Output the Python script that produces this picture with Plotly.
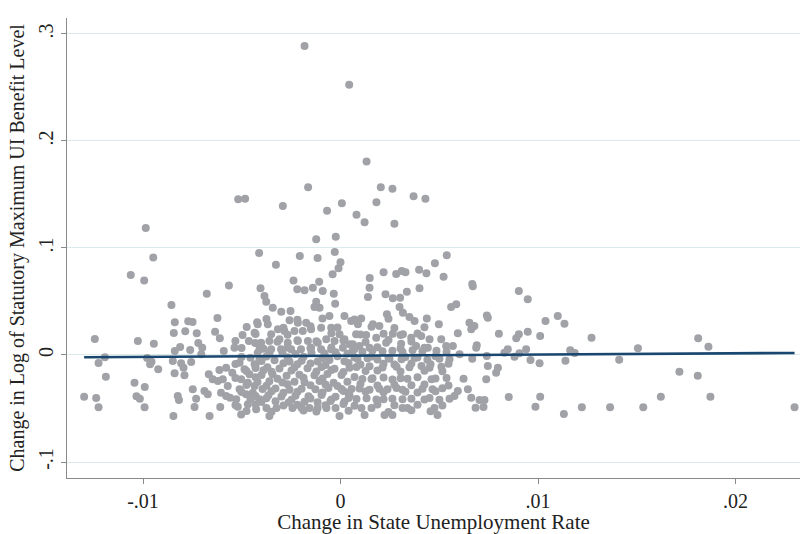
import plotly.graph_objects as go

# Change in state unemployment rate (x) vs change in log max UI benefit (y)

# points above roughly 0.03
x_upper = [-0.00182, 0.00044, 0.00132, -0.00164, -0.00518, -0.00483, -0.00292, 0.00204, 0.00263, 0.00182,
           0.00007, -0.00068, 0.00081, 0.00122, 0.00273, 0.0037, 0.0043, -0.00986, -0.00948, -0.01062,
           -0.00994, -0.00412, -0.00327, -0.00206, -0.00123, -0.00024, -0.00116, -0.00029, 0.0, -0.0001,
           -0.0004, -0.00238, -0.00108, 0.00148, 0.00218, 0.00282, 0.0031, 0.00329, 0.00398, 0.00435,
           0.00478, -0.00565, 0.00538, 0.00522, 0.00667, -0.00677, -0.00856,
           -0.00405, -0.00385, -0.00376, -0.00343, -0.003, -0.00253, -0.00219, -0.00182, -0.0014, -0.0009,
           -0.00034, -0.00123, -0.00132, -0.00106, -0.00027, -0.00056, 0.0002, 0.00054,
           0.00147, 0.00139, 0.00228, 0.00265, 0.00302, 0.00336, 0.004, 0.00299, 0.00316, 0.00349,
           0.00375, 0.00235, 0.00437, 0.00498, 0.0056, 0.00105, 0.00088, 0.00164, 0.00197,
           0.0067, 0.00903, 0.00948, 0.00586, 0.00741, 0.00746, 0.00653, 0.00678, 0.01038, 0.011, 0.01134,
           -0.00839, -0.00771, -0.00749, -0.00623, -0.00422]
y_upper = [0.2888, 0.2526, 0.1807, 0.1567, 0.1455, 0.1461, 0.1393, 0.1567, 0.1554, 0.1427,
           0.1418, 0.1349, 0.1311, 0.1240, 0.1227, 0.1483, 0.1461, 0.1187, 0.0910, 0.0748,
           0.0695, 0.0953, 0.0844, 0.0925, 0.1081, 0.1106, 0.0907, 0.0963, 0.0866, 0.0810,
           0.0754, 0.0695, 0.0685, 0.0720, 0.0773, 0.0757, 0.0785, 0.0773, 0.0797, 0.0763,
           0.0857, 0.0650, 0.0932, 0.0732, 0.0663, 0.0573, 0.0467,
           0.0623, 0.0551, 0.0498, 0.0442, 0.0405, 0.0411, 0.0614, 0.0604, 0.0629, 0.0598,
           0.0573, 0.0498, 0.0449, 0.0442, 0.0479, 0.0364, 0.0364, 0.0318,
           0.0629, 0.0542, 0.0567, 0.0530, 0.0536, 0.0592, 0.0623, 0.0449, 0.0395, 0.0355,
           0.0318, 0.0380, 0.0342, 0.0287, 0.0449, 0.0342, 0.0287, 0.0287, 0.0271,
           0.0642, 0.0598, 0.0520, 0.0474, 0.0370, 0.0349, 0.0302, 0.0271, 0.0318, 0.0364, 0.0293,
           0.0305, 0.0315, 0.0308, 0.0346, 0.0305]

# left tail, x below -0.009
x_left = [-0.01244, -0.01026, -0.00945, -0.01193, -0.01225, -0.00979, -0.00957, -0.00964, -0.00923,
          -0.01188, -0.01043, -0.00991, -0.01298, -0.01237, -0.01033, -0.01016, -0.01225, -0.00992]
y_left = [0.0150, 0.0131, 0.0106, -0.0021, -0.0075, -0.0028, -0.0063, -0.0087, -0.0134,
          -0.0203, -0.0259, -0.0299, -0.0390, -0.0402, -0.0386, -0.0408, -0.0489, -0.0489]

# right tail, x above 0.0055
x_right = [0.00662, 0.00594, 0.00802, 0.00903, 0.0089, 0.00948, 0.01011, 0.00569, 0.0069, 0.00847, 0.0094,
           0.01271, 0.01163, 0.01186, 0.01139, 0.01411, 0.01506, 0.01716, 0.01811, 0.01863, 0.01809,
           0.01622, 0.01873, 0.01131, 0.01222, 0.01365, 0.01533, 0.02299,
           0.00603, 0.00552, 0.00687, 0.00667, 0.00741, 0.00746, 0.0083, 0.00906, 0.00881, 0.00962,
           0.01008, 0.00797, 0.00788, 0.00623, 0.00738, 0.00594, 0.00577, 0.00645, 0.00662, 0.00704,
           0.00729, 0.00852, 0.01011, 0.00684, 0.00724, 0.00987]
y_right = [0.0240, 0.0203, 0.0199, 0.0193, 0.0156, 0.0218, 0.0178, 0.0084, 0.0090, 0.0053, 0.0053,
           0.0162, 0.0044, 0.0019, -0.0053, -0.0044, 0.0063, -0.0156, 0.0156, 0.0078, -0.0193,
           -0.0390, -0.0390, -0.0551, -0.0489, -0.0489, -0.0489, -0.0489,
           0.0006, -0.0040, 0.0068, -0.0034, -0.0009, -0.0103, 0.0022, 0.0016, -0.0016, -0.0047,
           -0.0078, -0.0119, -0.0165, -0.0221, -0.0227, -0.0336, -0.0383, -0.0321, -0.0399, -0.0421,
           -0.0421, -0.0393, -0.0390, -0.0492, -0.0486, -0.0483]

# left-centre cloud, x from -0.009 to -0.004
x_midleft = [-0.00844, -0.00786, -0.00728, -0.00635, -0.00611, -0.00496, -0.00464, -0.00432, -0.0072, -0.007,
             -0.00812, -0.00839, -0.00761, -0.00537, -0.00591,
             -0.00849, -0.00807, -0.00795, -0.00756, -0.00705, -0.0084, -0.0079, -0.00667, -0.00647, -0.00621,
             -0.00613, -0.00579, -0.00548, -0.00596, -0.00571, -0.00748, -0.00689, -0.00672, -0.00731, -0.00824,
             -0.00818, -0.00605, -0.00579, -0.00559, -0.00739, -0.00609, -0.00846, -0.00663, -0.0052, -0.00503,
             -0.00511, -0.00486, -0.00461, -0.00435, -0.0041, -0.00503, -0.00469, -0.00435, -0.00511, -0.00478,
             -0.00444, -0.0041, -0.00469, -0.00427, -0.00528]
y_midleft = [0.0206, 0.0221, 0.0203, 0.0218, 0.0156, 0.0187, 0.0131, 0.0112, 0.0112, 0.0068,
             0.0075, 0.0037, 0.0047, 0.0068, 0.0037,
             -0.0056, -0.0078, -0.0119, -0.0065, 0.0006, -0.0171, -0.0190, -0.0180, -0.0227, -0.0243,
             -0.0140, -0.0119, -0.0165, -0.0227, -0.0290, -0.0321, -0.0336, -0.0367, -0.0408, -0.0383,
             -0.0421, -0.0352, -0.0383, -0.0399, -0.0486, -0.0486, -0.0570, -0.0570, -0.0483, -0.0555,
             -0.0072, -0.0134, -0.0180, -0.0087, -0.0040, -0.0227, -0.0259, -0.0290, -0.0321, -0.0367,
             -0.0352, -0.0414, -0.0461, -0.0508, -0.0414]

# central cloud, x from -0.0045 to 0.0056
x_core = [-0.00402, -0.0036, -0.00309, -0.00267, -0.00216, -0.00165, -0.00115, -0.00072, -0.0003, 0.0002,
          0.00062, 0.00012, -0.00047, -0.00098, -0.00149, -0.002, -0.0025, -0.00301, -0.00351, -0.0041,
          -0.00419, -0.00368, -0.00258, -0.00216, -0.00174, -0.00435, -0.00351, -0.00317, -0.00284,
          -0.00233, -0.00191, -0.00149, -0.00098, -0.00047, -0.00005,
          0.00079, 0.0013, 0.00181, 0.00265, 0.00316, 0.00358, 0.00409, 0.00451, 0.0051, 0.00231,
          0.00307, 0.00383, 0.00442, 0.00535, 0.00096, 0.00147, 0.00046,
          -0.0042, -0.0036, -0.00294, -0.00228, -0.00147, -0.00081, -0.00025, 0.00035,
          -0.004, -0.00334, -0.00258, -0.00197, -0.00116, -0.00056, 0.0002,
          -0.0043, -0.0037, -0.00309, -0.00233, -0.00167, -0.00096, -0.0003, 0.00046,
          -0.004, -0.00344, -0.00273, -0.00208, -0.00132, -0.00066, 0.00005,
          -0.0042, -0.0036, -0.00294, -0.00233, -0.00182, -0.00106, -0.00035, 0.00035,
          -0.00395, -0.00329, -0.00258, -0.00197, -0.00127, -0.00061, 0.00005,
          -0.0043, -0.00365, -0.00299, -0.00228, -0.00162, -0.00096, -0.00025, 0.00046,
          -0.004, -0.00329, -0.00263, -0.00182, -0.00116, -0.00051, 0.0002,
          -0.00375, -0.00324, -0.00243, -0.00197, -0.00157, -0.00116, -0.00071, -0.00025,
          -0.0036, -0.00005,
          0.00061, 0.00111, 0.00162, 0.00213, 0.00263, 0.00314, 0.00365, 0.00415, 0.00486, 0.00537,
          0.00086, 0.00137, 0.00187, 0.00248, 0.00309, 0.00375, 0.0044, 0.00501,
          0.00081, 0.00147, 0.00213, 0.00284, 0.00349, 0.0041, 0.00451, 0.00511,
          0.00111, 0.00162, 0.00263, 0.00339, 0.00461, 0.00537,
          0.00056, 0.00096, 0.00147, 0.00197, 0.00238, 0.00284, 0.00314, 0.00415, 0.00466, 0.00516,
          0.00081, 0.00132, 0.00182, 0.00263, 0.00314, 0.00451, 0.00501, 0.00552,
          0.00106, 0.00157, 0.00314, 0.00339, 0.00476,
          0.00122, 0.00223, 0.00263, 0.00491]
y_core = [0.0115, 0.0131, 0.0146, 0.0115, 0.0131, 0.0131, 0.0115, 0.0146, 0.0131, 0.0146,
          0.0100, 0.0068, 0.0053, 0.0053, 0.0068, 0.0053, 0.0053, 0.0053, 0.0053, 0.0053,
          0.0287, 0.0287, 0.0324, 0.0302, 0.0302, 0.0208, 0.0193, 0.0240, 0.0224,
          0.0224, 0.0224, 0.0240, 0.0255, 0.0255, 0.0193,
          0.0193, 0.0187, 0.0162, 0.0199, 0.0193, 0.0162, 0.0178, 0.0146, 0.0146, 0.0115,
          0.0106, 0.0084, 0.0068, 0.0084, 0.0084, 0.0068, 0.0100,
          0.0019, 0.0012, 0.0024, 0.0009, 0.0021, 0.0015, 0.0026, 0.0011,
          -0.0056, -0.0049, -0.0062, -0.0053, -0.0060, -0.0047, -0.0058,
          -0.0121, -0.0115, -0.0127, -0.0118, -0.0124, -0.0112, -0.0129, -0.0119,
          -0.0187, -0.0181, -0.0193, -0.0184, -0.0190, -0.0178, -0.0186,
          -0.0252, -0.0246, -0.0258, -0.0249, -0.0255, -0.0243, -0.0260, -0.0250,
          -0.0318, -0.0312, -0.0324, -0.0315, -0.0321, -0.0309, -0.0317,
          -0.0383, -0.0377, -0.0389, -0.0380, -0.0386, -0.0374, -0.0391, -0.0381,
          -0.0439, -0.0433, -0.0445, -0.0436, -0.0442, -0.0430, -0.0438,
          -0.0495, -0.0495, -0.0495, -0.0495, -0.0495, -0.0495, -0.0495, -0.0495,
          -0.0570, -0.0570,
          0.0037, 0.0031, 0.0043, 0.0034, 0.0040, 0.0028, 0.0045, 0.0035, 0.0039, 0.0030,
          -0.0037, -0.0031, -0.0043, -0.0034, -0.0040, -0.0028, -0.0045, -0.0036,
          -0.0112, -0.0106, -0.0118, -0.0109, -0.0115, -0.0103, -0.0120, -0.0110,
          -0.0224, -0.0218, -0.0230, -0.0221, -0.0227, -0.0215,
          -0.0318, -0.0312, -0.0324, -0.0315, -0.0321, -0.0309, -0.0326, -0.0316, -0.0320, -0.0311,
          -0.0411, -0.0405, -0.0417, -0.0408, -0.0414, -0.0402, -0.0419, -0.0410,
          -0.0495, -0.0495, -0.0495, -0.0495, -0.0495,
          -0.0561, -0.0561, -0.0561, -0.0561]

# further observations inside the dense centre of the cloud
x_dense = [-0.00501, -0.00456, -0.00375, -0.00268, -0.00187, -0.00091, -0.00015, 0.00071, 0.00157, 0.00243,
           0.00329, 0.0039, 0.00481,
           -0.00532, -0.0043, -0.00289, -0.00218, -0.00152, -0.00076, 0.00041, 0.00101, 0.00218, 0.00273,
           0.00359, 0.00456, 0.00547,
           -0.00476, -0.0039, -0.00349, -0.00248, -0.00122, -0.00046, 0.00015, 0.00127, 0.00187, 0.00304,
           0.00425, 0.00516,
           -0.00532, -0.0043, -0.00319, -0.00187, -0.00091, 0.00071, 0.00157, 0.00218, 0.00304, 0.0039, 0.00481,
           -0.00476, -0.00375, -0.00268, -0.00152, -0.00076, -0.00015, 0.00101, 0.00187, 0.00273, 0.00359,
           0.00425, 0.00547,
           -0.00501, -0.00349, -0.00289, -0.00218, -0.00091, 0.00015, 0.00041, 0.00127, 0.00218, 0.00329,
           0.0039, 0.00481,
           -0.00456, -0.00375, -0.00248, -0.00152, -0.00046, 0.00041, 0.00218, 0.00359, 0.00425,
           -0.00532, -0.0043, -0.00289, -0.00218, -0.00076, 0.00015, 0.00071, 0.00187, 0.00273, 0.0039, 0.00516,
           -0.00476, -0.00349, -0.00187, -0.00122, 0.00041, 0.00243, 0.00359, 0.00456,
           -0.00501, -0.0039, -0.00268, -0.00152, -0.00046, 0.00071, 0.00187, 0.00304, 0.00425,
           -0.00532, -0.00319, -0.00218, -0.00122, 0.00015, 0.00127, 0.00243, 0.00359,
           -0.0043, -0.00268, -0.00046, 0.00101, 0.00218, 0.00304, 0.0039,
           -0.00475, -0.00289, -0.00152, -0.00015, 0.00157, 0.00273, 0.00425,
           -0.00375, -0.00218, -0.00091, 0.00071, 0.00243]
y_dense = [-0.0019, -0.0025, -0.0013, -0.0022, -0.0016, -0.0028, -0.0011, -0.0021, -0.0014, -0.0026,
           -0.0018, -0.0023, -0.0012,
           -0.0084, -0.0091, -0.0078, -0.0087, -0.0080, -0.0093, -0.0076, -0.0088, -0.0082, -0.0090,
           -0.0079, -0.0086, -0.0081,
           -0.0150, -0.0143, -0.0157, -0.0146, -0.0154, -0.0141, -0.0158, -0.0149, -0.0144, -0.0155,
           -0.0147, -0.0152,
           -0.0215, -0.0208, -0.0221, -0.0212, -0.0219, -0.0206, -0.0224, -0.0211, -0.0217, -0.0209, -0.0220,
           -0.0280, -0.0287, -0.0274, -0.0283, -0.0276, -0.0289, -0.0272, -0.0285, -0.0278, -0.0282,
           -0.0275, -0.0286,
           -0.0346, -0.0339, -0.0352, -0.0343, -0.0350, -0.0337, -0.0354, -0.0341, -0.0348, -0.0344,
           -0.0351, -0.0340,
           -0.0411, -0.0404, -0.0418, -0.0407, -0.0415, -0.0402, -0.0413, -0.0409, -0.0416,
           -0.0467, -0.0461, -0.0473, -0.0464, -0.0470, -0.0459, -0.0475, -0.0463, -0.0469, -0.0465, -0.0472,
           -0.0523, -0.0530, -0.0518, -0.0527, -0.0521, -0.0532, -0.0516, -0.0525,
           0.0065, 0.0058, 0.0071, 0.0062, 0.0069, 0.0056, 0.0073, 0.0060, 0.0067,
           0.0131, 0.0124, 0.0137, 0.0128, 0.0135, 0.0122, 0.0139, 0.0126,
           0.0196, 0.0189, 0.0203, 0.0192, 0.0199, 0.0187, 0.0201,
           0.0262, 0.0255, 0.0268, 0.0258, 0.0265, 0.0253, 0.0260,
           0.0336, 0.0329, 0.0342, 0.0332, 0.0339]

# fitted line (least squares)
fit_intercept = -0.0007
fit_slope = 0.114

x_ticks = [-0.01, 0.0, 0.01, 0.02]
x_ticklabels = ["-.01", "0", ".01", ".02"]
y_ticks = [-0.1, 0.0, 0.1, 0.2, 0.3]
y_ticklabels = ["-.1", "0", ".1", ".2", ".3"]

xs = x_upper + x_left + x_right + x_midleft + x_core + x_dense
ys = y_upper + y_left + y_right + y_midleft + y_core + y_dense

x_lo, x_hi = min(xs), max(xs)

FONT = "Liberation Serif"
POINT = "#a0a2a7"
LINE = "#1a476f"
AXIS = "#8a8a8a"
GRID = "#dbeaed"
TEXT = "#222222"

fig = go.Figure()
fig.add_trace(go.Scatter(
    x=xs, y=ys, mode="markers",
    marker=dict(size=8, color=POINT, line=dict(width=0)),
    hoverinfo="skip", showlegend=False,
))
fig.add_trace(go.Scatter(
    x=[x_lo, x_hi],
    y=[fit_intercept + fit_slope * x_lo, fit_intercept + fit_slope * x_hi],
    mode="lines", line=dict(color=LINE, width=2.6),
    hoverinfo="skip", showlegend=False,
))

fig.update_layout(
    width=801, height=534,
    margin=dict(l=67, r=1, t=18, b=56),
    paper_bgcolor="white", plot_bgcolor="white",
    font=dict(family=FONT, size=20, color=TEXT),
)
fig.update_xaxes(
    range=[-0.013848, 0.023266],
    tickvals=x_ticks, ticktext=x_ticklabels,
    showgrid=False, zeroline=False,
    showline=True, linecolor=AXIS, linewidth=1.3,
    ticks="outside", ticklen=5, tickcolor=AXIS, tickwidth=1.3,
    tickfont=dict(family=FONT, size=20, color=TEXT),
    title=dict(text="Change in State Unemployment Rate", font=dict(family=FONT, size=21, color=TEXT),
               standoff=2),
)
fig.update_yaxes(
    range=[-0.11495, 0.3149],
    tickvals=y_ticks, ticktext=y_ticklabels, tickangle=-90,
    showgrid=True, gridcolor=GRID, gridwidth=1.2, zeroline=False,
    showline=True, linecolor=AXIS, linewidth=1.3,
    ticks="outside", ticklen=5, tickcolor=AXIS, tickwidth=1.3,
    tickfont=dict(family=FONT, size=20, color=TEXT),
    title=dict(text="Change in Log of Statutory Maximum UI Benefit Level",
               font=dict(family=FONT, size=20, color=TEXT), standoff=4),
)

fig.write_html("out.html")
